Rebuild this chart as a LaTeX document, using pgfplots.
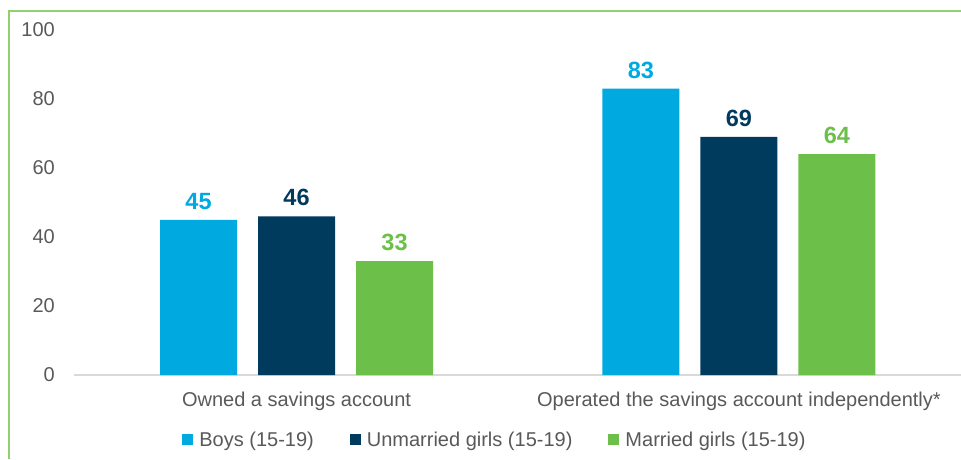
\documentclass[border=0pt]{standalone}
\usepackage{fontspec}
\setmainfont{Liberation Sans}
\usepackage{pgfplots}
\pgfplotsset{compat=1.18}
\definecolor{cBoys}{HTML}{00A9E0}
\definecolor{cUnm}{HTML}{003A5D}
\definecolor{cMar}{HTML}{6CC04A}
\definecolor{cFrame}{HTML}{8FD16F}
\definecolor{cText}{HTML}{595959}
\definecolor{cAxis}{HTML}{D9D9D9}
\begin{document}
\begin{tikzpicture}[x=1pt,y=1pt]
\useasboundingbox (0,0) rectangle (961,459);
\draw[cFrame, line width=1.5pt] (9,0) -- (9,448) -- (961,448);
\begin{axis}[
  at={(74pt,84pt)}, anchor=south west,
  scale only axis, width=887pt, height=345pt,
  ymin=0, ymax=100, xmin=-0.503, xmax=1.502,
  ybar=21pt, bar width=77pt,
  axis x line*=bottom, axis y line*=left,
  x axis line style={cAxis, line width=2pt, -},
  y axis line style={draw=none},
  ytick={0,20,...,100},
  xtick={0,1}, xticklabels={Owned a savings account, Operated the savings account independently*},
  major tick length=0pt,
  tick label style={font=\fontsize{20}{24}\selectfont, text=cText},
  /pgf/number format/assume math mode=true,
  xticklabel style={anchor=north, inner sep=0pt, yshift=-17pt},
  yticklabel style={anchor=east, inner sep=0pt, xshift=-19pt},
  every node near coord/.append style={font=\bfseries\fontsize{23.5}{27}\selectfont, inner sep=0pt, anchor=south, yshift=10pt},
  nodes near coords,
  legend columns=3,
  legend style={draw=none, at={(0.4746,-0.188)}, anchor=center, font=\fontsize{20}{24}\selectfont, text=cText,
    /tikz/every even column/.append style={column sep=34pt}, inner sep=0pt},
  legend image code/.code={\fill[#1] (0pt,-5.5pt) rectangle (11pt,5.5pt); \path (15pt,0pt);},
  clip=false,
]
\addplot[fill=cBoys, draw=none, every node near coord/.append style={text=cBoys}] coordinates {(0,45) (1,83)};
\addplot[fill=cUnm, draw=none, every node near coord/.append style={text=cUnm}] coordinates {(0,46) (1,69)};
\addplot[fill=cMar, draw=none, every node near coord/.append style={text=cMar}] coordinates {(0,33) (1,64)};
\legend{Boys (15-19), Unmarried girls (15-19), Married girls (15-19)}
\end{axis}
\end{tikzpicture}
\end{document}
